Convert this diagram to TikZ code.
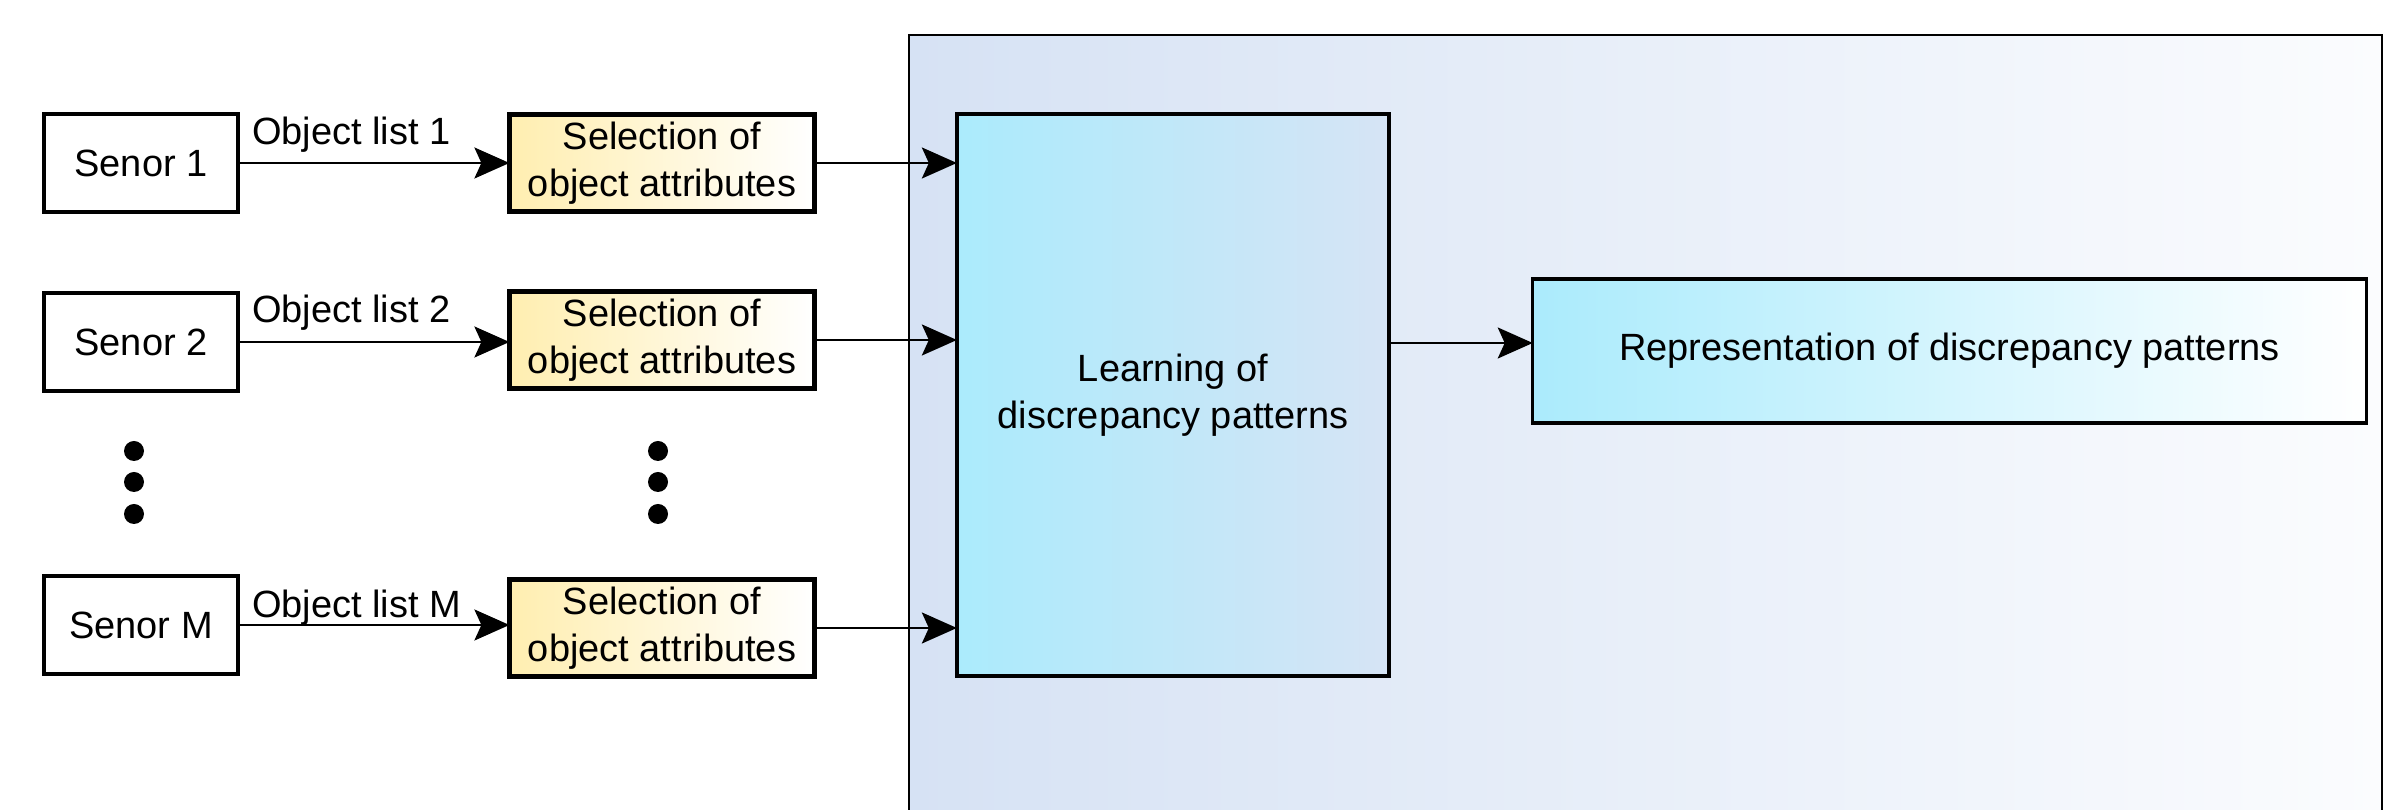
\documentclass[tikz,border=0pt]{standalone}
\usepackage{fontspec}
\setmainfont{Liberation Sans}
\usetikzlibrary{arrows.meta}
\definecolor{selL}{HTML}{FFEEB0}
\definecolor{cyanL}{HTML}{ABEBFC}
\definecolor{learnR}{HTML}{D6E4F5}
\definecolor{contL}{HTML}{D6E2F4}
\definecolor{contR}{HTML}{FBFCFE}
\tikzset{
  every node/.style={font=\fontsize{10.8pt}{13.5pt}\selectfont, inner sep=0pt, outer sep=0pt, align=center},
  sensorbox/.style={draw, line width=1.35pt, fill=white, minimum width=1.94cm, minimum height=0.98cm},
  selbox/.style={draw, line width=1.35pt, left color=selL, right color=white, minimum width=3.05cm, minimum height=0.97cm},
  learnbox/.style={draw, line width=1.3pt, left color=cyanL, right color=learnR, minimum width=4.32cm, minimum height=5.62cm},
  repbox/.style={draw, line width=0.95pt, left color=cyanL, right color=white, minimum width=8.33cm, minimum height=1.44cm},
  arr/.style={line width=0.65pt, -{Stealth[length=0.35cm, width=0.31cm, inset=0.07cm]}},
  lbl/.style={anchor=base west},
}
\begin{document}
\begin{tikzpicture}[x=0.01cm,y=-0.01cm]
\useasboundingbox (0,0) rectangle (2405,810);
\clip (0,0) rectangle (2405,810);
% container
\path[left color=contL, right color=contR] (909,35) rectangle (2382,840);
\draw[line width=0.75pt] (909,840) -- (909,35) -- (2382,35) -- (2382,840);
% sensors
\node[sensorbox] (s1) at (141,163) {Senor 1};
\node[sensorbox] (s2) at (141,342) {Senor 2};
\node[sensorbox] (sM) at (141,625) {Senor M};
% selection boxes
\node[selbox] (a1) at (662,163) {Selection of\\object attributes};
\node[selbox] (a2) at (662,340) {Selection of\\object attributes};
\node[selbox] (aM) at (662,628) {Selection of\\object attributes};
% learning and representation
\node[learnbox] (L) at (1173,395) {Learning of\\discrepancy patterns};
\node[repbox] (R) at (1949.5,351) {Representation of discrepancy patterns};
% dots
\foreach \yy in {451,482,514} {
  \fill (134,\yy) circle[radius=10];
  \fill (658,\yy) circle[radius=10];
}
% arrows sensor -> selection
\draw[arr] (s1.east) -- (s1.east -| a1.west);
\draw[arr] (s2.east) -- (s2.east -| a2.west);
\draw[arr] (sM.east) -- (sM.east -| aM.west);
% labels
\node[lbl] (l1) at (252,145) {Object list 1};
\node[lbl] (l2) at (252,323) {Object list 2};
\node[lbl] (lM) at (252,618) {Object list M};
% arrows selection -> learning
\draw[arr] (a1.east) -- (a1.east -| L.west);
\draw[arr] (a2.east) -- (a2.east -| L.west);
\draw[arr] (aM.east) -- (aM.east -| L.west);
% learning -> representation
\coordinate (c) at (0,343);
\draw[arr] (c -| L.east) -- (c -| R.west);
\end{tikzpicture}
\end{document}
